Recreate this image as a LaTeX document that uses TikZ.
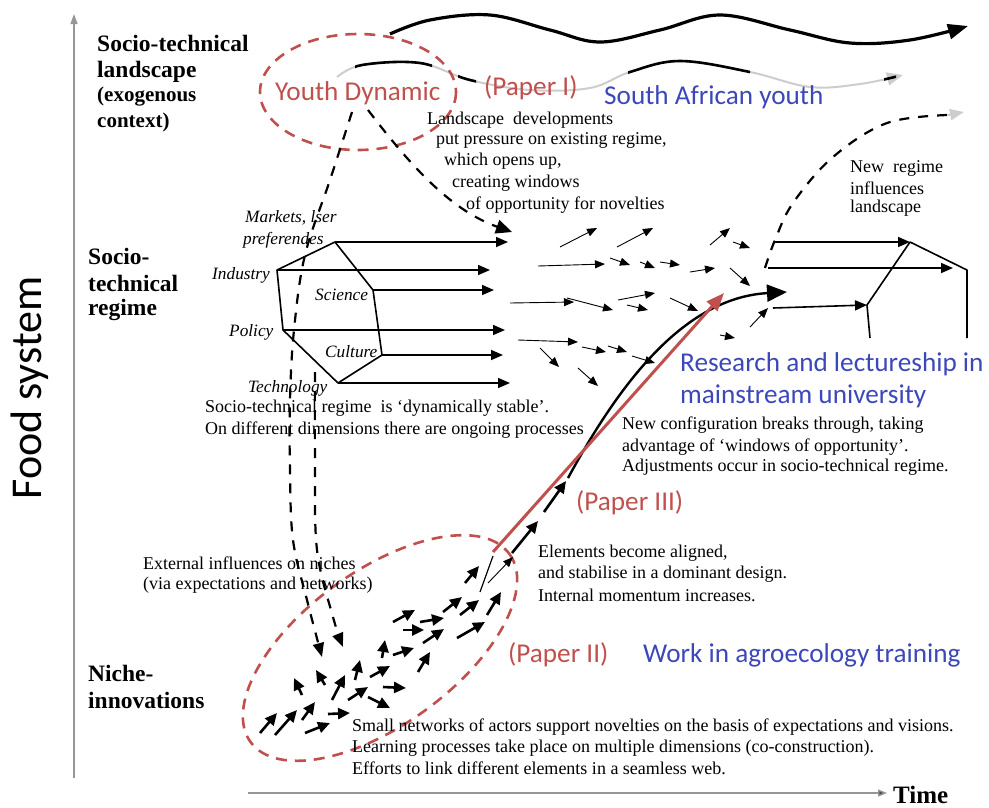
\documentclass[tikz,border=0pt]{standalone}
\usepackage{fontspec}
\setmainfont{Liberation Serif}
\newfontfamily\calfont{Carlito}
\usetikzlibrary{arrows.meta}
\definecolor{pred}{RGB}{192,80,77}
\definecolor{pblue}{RGB}{60,72,185}
\definecolor{axg}{RGB}{150,150,150}
\definecolor{fadeg}{RGB}{205,205,205}
\tikzset{
  txt/.style={inner sep=0pt, anchor=west, font=\fontsize{18}{20}\selectfont},
  lbl/.style={inner sep=0pt, anchor=west, font=\fontsize{23.5}{26}\selectfont\bfseries},
  lbls/.style={inner sep=0pt, anchor=west, font=\fontsize{21}{24}\selectfont\bfseries},
  itl/.style={inner sep=0pt, anchor=west, font=\fontsize{17.3}{20}\selectfont\itshape},
  ann/.style={inner sep=0pt, anchor=west, font=\calfont\fontsize{27.2}{30}\selectfont},
  redtxt/.style={ann, text=pred},
  bluetxt/.style={ann, text=pblue},
  flow/.style={line width=1.6pt, -{Triangle[length=12pt,width=10pt]}},
  thinarr/.style={line width=0.9pt, -{Triangle[length=10pt,width=8pt]}},
  nicharr/.style={line width=2.6pt, -{Triangle[length=12pt,width=11pt]}},
  dsh/.style={line width=2.2pt, dash pattern=on 10pt off 9pt},
  reddash/.style={pred, line width=2.6pt, dash pattern=on 11pt off 8pt},
  axis/.style={axg, line width=1.3pt},
}
\begin{document}
\begin{tikzpicture}[x=1pt,y=-1pt]
\useasboundingbox (0,0) rectangle (989,807);

% axes
\coordinate (vb) at (74,778);
\coordinate (vt) at (74,14);
\coordinate (hb) at (248,793);
\coordinate (ht) at (887,793);
\draw[axis, -{Triangle[length=10pt,width=7pt]}] (vb) -- (vt);
\draw[axis, -{Triangle[length=9pt,width=7pt,fill=black!70]}] (hb) -- (ht);
\node[inner sep=0pt, anchor=west, font=\fontsize{25}{28}\selectfont\bfseries] (time) at (893,795) {Time};
\node[inner sep=0pt, rotate=90, font=\calfont\fontsize{44}{46}\selectfont] (food) at (30,388) {Food system};

% landscape wave 1
\draw[line width=3.2pt, -{Triangle[length=20pt,width=15pt]}] plot[smooth, tension=0.6] coordinates
  {(390,34) (430,20) (490,15) (550,30) (600,42) (660,30) (720,15) (790,30) (850,43) (910,40) (968,26)};

% landscape wave 2 (partly faded)
\def\wavetwo{plot[smooth, tension=0.6] coordinates {(337,77) (362,65) (420,63) (470,80) (530,90) (590,88) (630,72) (680,61) (750,72) (810,87) (860,84) (903,75)}}
\draw[fadeg, line width=2pt, -{Triangle[length=16pt,width=13pt]}] \wavetwo;
\begin{scope}
  \clip (355,0) rectangle (432,120) (458,0) rectangle (476,120) (628,0) rectangle (750,120) (884,0) rectangle (896,120);
  \draw[line width=2.6pt] \wavetwo;
\end{scope}

% new regime influences landscape (dashed)
\draw[dsh] plot[smooth, tension=0.6] coordinates {(765,268) (775,240) (793,203) (833,157) (887,123) (948,115)};
\draw[fadeg, line width=2pt, -{Triangle[length=14pt,width=11pt]}] (948,115) -- (964,112);

% red dashed ellipse (youth dynamic)
\draw[reddash] (358,92) ellipse [x radius=98, y radius=58];

% dashed arrow landscape -> regime
\draw[dsh, -{Triangle[length=16pt,width=14pt]}] (368,110) .. controls (410,165) and (450,210) .. (512,232);

% dashed lines down to niches
\draw[dsh, -{Triangle[length=14pt,width=11pt]}] plot[smooth, tension=0.6] coordinates
  {(352,112) (330,180) (305,255) (294,330) (290,400) (290,470) (293,540) (307,600) (322,657)};
\draw[dsh, -{Triangle[length=14pt,width=11pt]}] plot[smooth, tension=0.6] coordinates
  {(315,372) (315,460) (317,550) (333,617) (343,647)};

% regime hexagon
\coordinate (hT) at (335,242);
\coordinate (hI) at (277,270);
\coordinate (hP) at (283,330);
\coordinate (hTe) at (338,383);
\coordinate (hC) at (382,355);
\coordinate (hS) at (373,290);
\draw[line width=1.6pt, line join=round] (hT) -- (hI) -- (hP) -- (hTe) -- (hC) -- (hS) -- cycle;
\coordinate (eT) at (508,242);
\coordinate (eI) at (490,270);
\coordinate (eS) at (494,290);
\coordinate (eP) at (505,330);
\coordinate (eC) at (503,355);
\coordinate (eTe) at (510,383);
\draw[flow] (hT) -- (eT);
\draw[flow] (hI) -- (eI);
\draw[flow] (hS) -- (eS);
\draw[flow] (hP) -- (eP);
\draw[flow] (hC) -- (eC);
\draw[flow] (hTe) -- (eTe);

% small arrows in the regime
\foreach \a/\b/\c/\d in {560/247/597/228, 617/247/653/228, 710/245/730/228, 733/242/750/248,
  538/266/605/264, 610/258/630/265, 640/262/655/268, 660/262/680/265, 690/272/715/268, 730/268/750/286,
  510/303/574/302, 567/298/613/310, 618/300/655/293, 627/305/648/310, 670/298/698/311, 750/327/768/308,
  518/340/578/342, 540/348/559/367, 582/347/606/352, 608/346/627/352, 632/356/655/363, 720/335/735/338,
  578/368/598/386}
  \draw[thinarr] (\a,\b) -- (\c,\d);

% new regime hexagon (right)
\coordinate (nA) at (910,242);
\coordinate (nB) at (967,270);
\coordinate (nBb) at (967,338);
\coordinate (nC) at (867,305);
\coordinate (nCb) at (870,338);
\coordinate (sA) at (775,242);
\coordinate (sB) at (768,268);
\coordinate (sC) at (773,308);
\draw[flow] (sA) -- (nA);
\draw[flow] (sB) -- (953,268);
\draw[flow] (sC) -- (nC);
\draw[line width=1.6pt, line join=round] (nA) -- (nB) -- (nBb);
\draw[line width=1.6pt, line join=round] (nA) -- (nC) -- (nCb);

% niche red dashed ellipse
\draw[reddash, rotate around={36:(380,648)}] (380,648) ellipse [x radius=160, y radius=77];

% niche arrows
\foreach \a/\b/\c/\d in {260/733/277/713, 275/735/297/710, 302/720/315/702, 305/733/330/723, 328/714/350/713,
  302/695/294/678, 325/685/316/670, 332/700/345/675, 348/700/368/687, 355/680/360/660, 370/677/390/666,
  368/697/390/708, 383/687/406/688, 382/658/385/640, 393/655/414/648, 418/672/430/652, 423/643/444/629,
  403/630/424/630, 393/622/415/610, 420/622/444/618, 457/638/485/622, 443/612/462/597, 460/615/479/600,
  465/583/479/566, 487/615/501/592, 512/553/538/521, 544/512/566/481}
  \draw[nicharr] (\a,\b) -- (\c,\d);
\draw[line width=1.2pt] (480,592) -- (493,556);
\draw[thinarr] (488,583) -- (513,557);

% breakthrough: black curve and red arrow
\draw[line width=2.4pt, -{Triangle[length=20pt,width=17pt]}] (568,478) .. controls (615,392) and (680,298) .. (787,292);
\draw[pred, line width=3pt, -{Triangle[length=18pt,width=14pt]}] (493,552) -- (724,293);

% labels (bold, left)
\node[lbl] (l1) at (97,43) {Socio-technical};
\node[lbl] (l2) at (97,72) {landscape};
\node[lbls] (l3) at (97,97) {(exogenous};
\node[lbls] (l4) at (97,122) {context)};
\node[lbl] (r1) at (88,256) {Socio-};
\node[lbl] (r2) at (88,283) {technical};
\node[lbl] (r3) at (88,310) {regime};
\node[lbl] (n1) at (88,673) {Niche-};
\node[lbl] (n2) at (88,700) {innovations};

% annotations
\node[redtxt] (yd) at (275,93) {Youth Dynamic};
\node[redtxt] (p1) at (484,88) {(Paper I)};
\node[bluetxt] (say) at (604,97) {South African youth};
\node[bluetxt] (rl1) at (680,364) {Research and lectureship in};
\node[bluetxt] (rl2) at (680,396) {mainstream university};
\node[redtxt] (p3) at (576,503) {(Paper III)};
\node[redtxt] (p2) at (508,655) {(Paper II)};
\node[bluetxt] (wa) at (643,655) {Work in agroecology training};

% landscape text
\node[txt] (t1) at (427,120) {Landscape\ \ developments};
\node[txt] (t2) at (436,140) {put pressure on existing regime,};
\node[txt] (t3) at (444,161) {which opens up,};
\node[txt] (t4) at (452,183) {creating windows};
\node[txt] (t5) at (466,205) {of opportunity for novelties};

% new regime text
\node[txt] (nr1) at (850,168) {New\ \ regime};
\node[txt] (nr2) at (850,188) {influences};
\node[txt] (nr3) at (850,208) {landscape};

% regime dimension labels
\node[itl] (m1) at (245,218) {Markets, lser};
\node[itl] (m2) at (243,240) {preferendes};
\node[itl] (ind) at (212,275) {Industry};
\node[itl] (sci) at (315,295) {Science};
\node[itl] (pol) at (229,332) {Policy};
\node[itl] (cul) at (325,352) {Culture};
\node[itl] (tec) at (248,388) {Technology};

% regime text
\node[txt] (s1) at (205,408) {Socio-technical regime\ \ is ‘dynamically stable’.};
\node[txt] (s2) at (205,430) {On different dimensions there are ongoing processes};

% breakthrough text
\node[txt] (b1) at (622,425) {New configuration breaks through, taking};
\node[txt] (b2) at (622,447) {advantage of ‘windows of opportunity’.};
\node[txt] (b3) at (622,467) {Adjustments occur in socio-technical regime.};

% niche texts
\node[txt] (e1) at (143,563) {External influences on niches};
\node[txt] (e2) at (143,585) {(via expectations and networks)};
\node[txt] (a1) at (538,553) {Elements become aligned,};
\node[txt] (a2) at (538,574) {and stabilise in a dominant design.};
\node[txt] (a3) at (538,595) {Internal momentum increases.};
\node[txt] (sm1) at (352,727) {Small networks of actors support novelties on the basis of expectations and visions.};
\node[txt] (sm2) at (352,748) {Learning processes take place on multiple dimensions (co-construction).};
\node[txt] (sm3) at (352,768) {Efforts to link different elements in a seamless web.};
\end{tikzpicture}
\end{document}
